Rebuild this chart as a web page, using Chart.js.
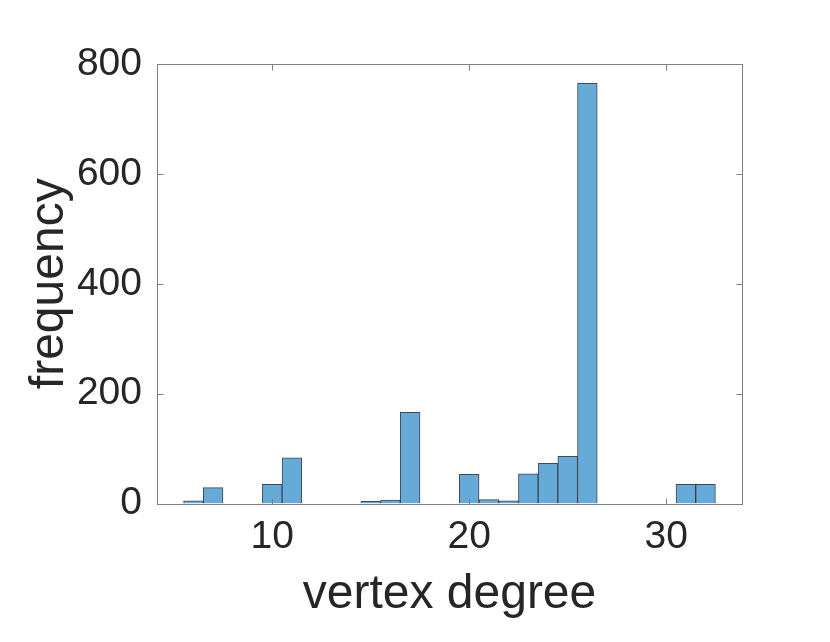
<!DOCTYPE html>
<html>
<head>
<meta charset="utf-8">
<script src="https://cdn.jsdelivr.net/npm/chart.js@4/dist/chart.umd.min.js"></script>
<style>
  html, body { margin: 0; padding: 0; background: #fff; }
  canvas { display: block; }
</style>
</head>
<body>
<canvas id="hist" width="830" height="642"></canvas>
<script>
// histogram bins (centres) and counts
const degrees = [6, 7, 8, 9, 10, 11, 12, 13, 14, 15, 16, 17, 18, 19, 20, 21, 22, 23, 24, 25, 26, 27, 28, 29, 30, 31, 32];
const counts  = [5, 29, 0, 0, 35, 83, 0, 0, 0, 4, 6, 166, 0, 0, 53, 7, 5, 54, 73, 86, 765, 0, 0, 0, 0, 35, 35];

const xTicks = [10, 20, 30];
const yTicks = [0, 200, 400, 600, 800];
const xRange = [4.15, 33.85];
const yRange = [0, 800];

const TEXT = '#262626';
const FONT = "'Liberation Sans', Arial, Helvetica, sans-serif";

// box + inward ticks drawn on top of the bars, like MATLAB
const boxPlugin = {
  id: 'box',
  afterDatasetsDraw(chart) {
    const { ctx, chartArea: a, scales } = chart;
    const L = Math.round(a.left) + 0.5, R = Math.round(a.right) + 0.5;
    const T = Math.round(a.top) + 0.5, B = Math.round(a.bottom) + 0.5;
    const len = 6;
    ctx.save();
    ctx.strokeStyle = '#808080';
    ctx.lineWidth = 1;
    ctx.strokeRect(L, T, R - L, B - T);
    ctx.beginPath();
    xTicks.forEach(v => {
      const x = Math.round(scales.x.getPixelForValue(v)) + 0.5;
      ctx.moveTo(x, B); ctx.lineTo(x, B - len);
      ctx.moveTo(x, T); ctx.lineTo(x, T + len);
    });
    yTicks.forEach(v => {
      const y = Math.round(scales.y.getPixelForValue(v)) + 0.5;
      ctx.moveTo(L, y); ctx.lineTo(L + len, y);
      ctx.moveTo(R, y); ctx.lineTo(R - len, y);
    });
    ctx.stroke();
    ctx.restore();
  }
};

new Chart(document.getElementById('hist'), {
  type: 'bar',
  data: {
    datasets: [{
      data: degrees.map((d, i) => ({ x: d, y: counts[i] })),
      backgroundColor: '#66AAD7',
      borderColor: 'rgba(30,40,50,0.85)',
      borderWidth: 1,
      borderSkipped: 'start',
      categoryPercentage: 1,
      barPercentage: 1,
    }],
  },
  options: {
    responsive: false,
    animation: false,
    events: [],
    layout: { padding: { top: 64, right: 88, left: 0, bottom: 0 } },
    plugins: { legend: { display: false }, tooltip: { enabled: false } },
    scales: {
      x: {
        type: 'linear',
        offset: false,
        min: xRange[0],
        max: xRange[1],
        grid: { display: false, drawTicks: false },
        border: { display: false },
        afterBuildTicks: s => { s.ticks = xTicks.map(v => ({ value: v })); },
        afterFit: s => { s.height = 138.5; },
        ticks: { color: TEXT, padding: 10, maxRotation: 0, font: { family: FONT, size: 39 } },
        title: {
          display: true, text: 'vertex degree', color: TEXT,
          font: { family: FONT, size: 48, lineHeight: 1 },
          padding: { top: 0, bottom: 23 },
        },
      },
      y: {
        min: yRange[0],
        max: yRange[1],
        grid: { display: false, drawTicks: false },
        border: { display: false },
        afterBuildTicks: s => { s.ticks = yTicks.map(v => ({ value: v })); },
        afterFit: s => { s.width = 157; },
        ticks: { color: TEXT, padding: 15, font: { family: FONT, size: 39 } },
        title: {
          display: true, text: 'frequency', color: TEXT,
          font: { family: FONT, size: 48, lineHeight: 1 },
          padding: { top: 26, bottom: 0 },
        },
      },
    },
  },
  plugins: [boxPlugin],
});
</script>
</body>
</html>
